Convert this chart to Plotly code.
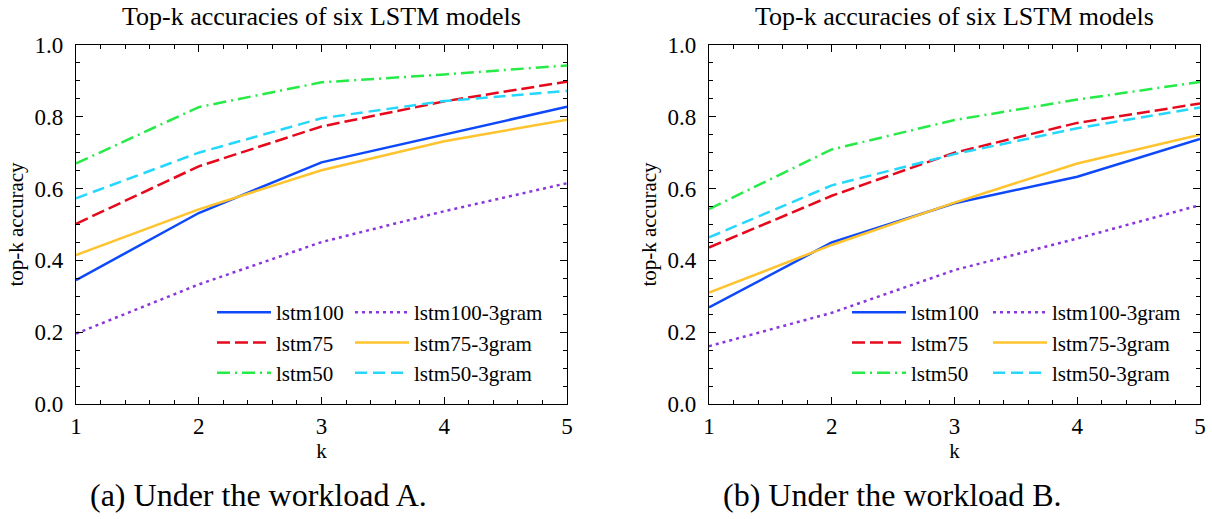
import plotly.graph_objects as go

k_values = [1, 2, 3, 4, 5]

# Workload A
a_lstm100 = [0.345, 0.532, 0.673, 0.751, 0.828]
a_lstm75 = [0.502, 0.662, 0.773, 0.843, 0.898]
a_lstm50 = [0.670, 0.827, 0.896, 0.918, 0.943]
a_lstm100_3gram = [0.196, 0.333, 0.451, 0.537, 0.615]
a_lstm75_3gram = [0.415, 0.542, 0.651, 0.732, 0.792]
a_lstm50_3gram = [0.573, 0.700, 0.796, 0.844, 0.872]

# Workload B
b_lstm100 = [0.269, 0.450, 0.559, 0.633, 0.738]
b_lstm75 = [0.436, 0.580, 0.700, 0.783, 0.837]
b_lstm50 = [0.543, 0.709, 0.791, 0.848, 0.897]
b_lstm100_3gram = [0.161, 0.254, 0.373, 0.461, 0.554]
b_lstm75_3gram = [0.310, 0.443, 0.561, 0.670, 0.750]
b_lstm50_3gram = [0.464, 0.609, 0.696, 0.768, 0.826]

model_names = ["lstm100", "lstm75", "lstm50", "lstm100-3gram", "lstm75-3gram", "lstm50-3gram"]
colors = ["#0d49fb", "#e6091c", "#26eb47", "#8936df", "#fec32d", "#25d7fd"]
dashes = ["solid", "13px,5px", "13px,5px,2px,5px", "3px,4px", "solid", "12px,6px"]

panel_title = "Top-k accuracies of six LSTM models"
captions = ["(a) Under the workload A.", "(b) Under the workload B."]

SERIF = "Liberation Serif"

fig = go.Figure()

panels = [
    ([a_lstm100, a_lstm75, a_lstm50, a_lstm100_3gram, a_lstm75_3gram, a_lstm50_3gram],
     "x", "y", ["legend", "legend", "legend", "legend2", "legend2", "legend2"]),
    ([b_lstm100, b_lstm75, b_lstm50, b_lstm100_3gram, b_lstm75_3gram, b_lstm50_3gram],
     "x2", "y2", ["legend3", "legend3", "legend3", "legend4", "legend4", "legend4"]),
]

for series, xa, ya, legends in panels:
    for i, (name, vals) in enumerate(zip(model_names, series)):
        fig.add_trace(go.Scatter(
            x=k_values, y=vals, name=name, mode="lines",
            line=dict(color=colors[i], width=2.5, dash=dashes[i]),
            xaxis=xa, yaxis=ya, legend=legends[i], legendgroup=f"{xa}-{name}",
            hoverinfo="skip",
        ))

W, H = 1212, 519
plot_top = 45
plot_bottom = 404
y_domain = [(H - plot_bottom) / H, (H - plot_top) / H]
x_domain_a = [76 / W, 567 / W]
x_domain_b = [709 / W, 1200 / W]

axis_common = dict(
    showline=True, linecolor="black", linewidth=1.3, mirror="allticks",
    ticks="inside", ticklen=7, tickwidth=1.2, tickcolor="black",
    showgrid=False, zeroline=False, automargin=False,
    tickfont=dict(family=SERIF, size=23, color="black"),
)
xaxis_common = dict(axis_common, range=[1, 5], tickmode="array", tickvals=k_values,
                    ticklabelstandoff=1,
                    minor=dict(ticks="inside", ticklen=4, tickwidth=1, dtick=0.2, tickcolor="black"),
                    title=dict(text="k", font=dict(family=SERIF, size=21, color="black"), standoff=3))
yaxis_common = dict(axis_common, range=[0, 1.0], tickmode="array",
                    tickvals=[0, 0.2, 0.4, 0.6, 0.8, 1.0],
                    ticktext=["0.0", "0.2", "0.4", "0.6", "0.8", "1.0"],
                    ticklabelstandoff=7,
                    minor=dict(ticks="inside", ticklen=4, tickwidth=1, dtick=0.05, tickcolor="black"),
                    title=dict(text="top-k accuracy", font=dict(family=SERIF, size=21, color="black"), standoff=5))

legend_common = dict(
    font=dict(family=SERIF, size=21, color="black"),
    bgcolor="rgba(0,0,0,0)", borderwidth=0,
    xanchor="left", yanchor="top", tracegroupgap=0,
    itemwidth=54,
)
legend_top = (H - 292) / H

fig.update_layout(
    width=W, height=H,
    margin=dict(l=0, r=0, t=0, b=0),
    paper_bgcolor="white", plot_bgcolor="white",
    xaxis=dict(xaxis_common, domain=x_domain_a, anchor="y"),
    yaxis=dict(yaxis_common, domain=y_domain, anchor="x"),
    xaxis2=dict(xaxis_common, domain=x_domain_b, anchor="y2"),
    yaxis2=dict(yaxis_common, domain=y_domain, anchor="x2"),
    legend=dict(legend_common, x=212 / W, y=legend_top),
    legend2=dict(legend_common, x=350 / W, y=legend_top),
    legend3=dict(legend_common, x=847 / W, y=legend_top),
    legend4=dict(legend_common, x=988 / W, y=legend_top),
    showlegend=True,
)

annotations = []
for title_x, cap_x, cap in [((76 + 567) / 2 / W, 258 / W, captions[0]),
                            ((709 + 1200) / 2 / W, 893 / W, captions[1])]:
    annotations.append(dict(
        text=panel_title, x=title_x, y=(H - 17) / H, xref="paper", yref="paper",
        xanchor="center", yanchor="middle", showarrow=False,
        font=dict(family=SERIF, size=26, color="black"),
    ))
    annotations.append(dict(
        text=cap, x=cap_x, y=(H - 495) / H, xref="paper", yref="paper",
        xanchor="center", yanchor="middle", showarrow=False,
        font=dict(family=SERIF, size=32, color="black"),
    ))
fig.update_layout(annotations=annotations)

fig.write_html("out.html")
